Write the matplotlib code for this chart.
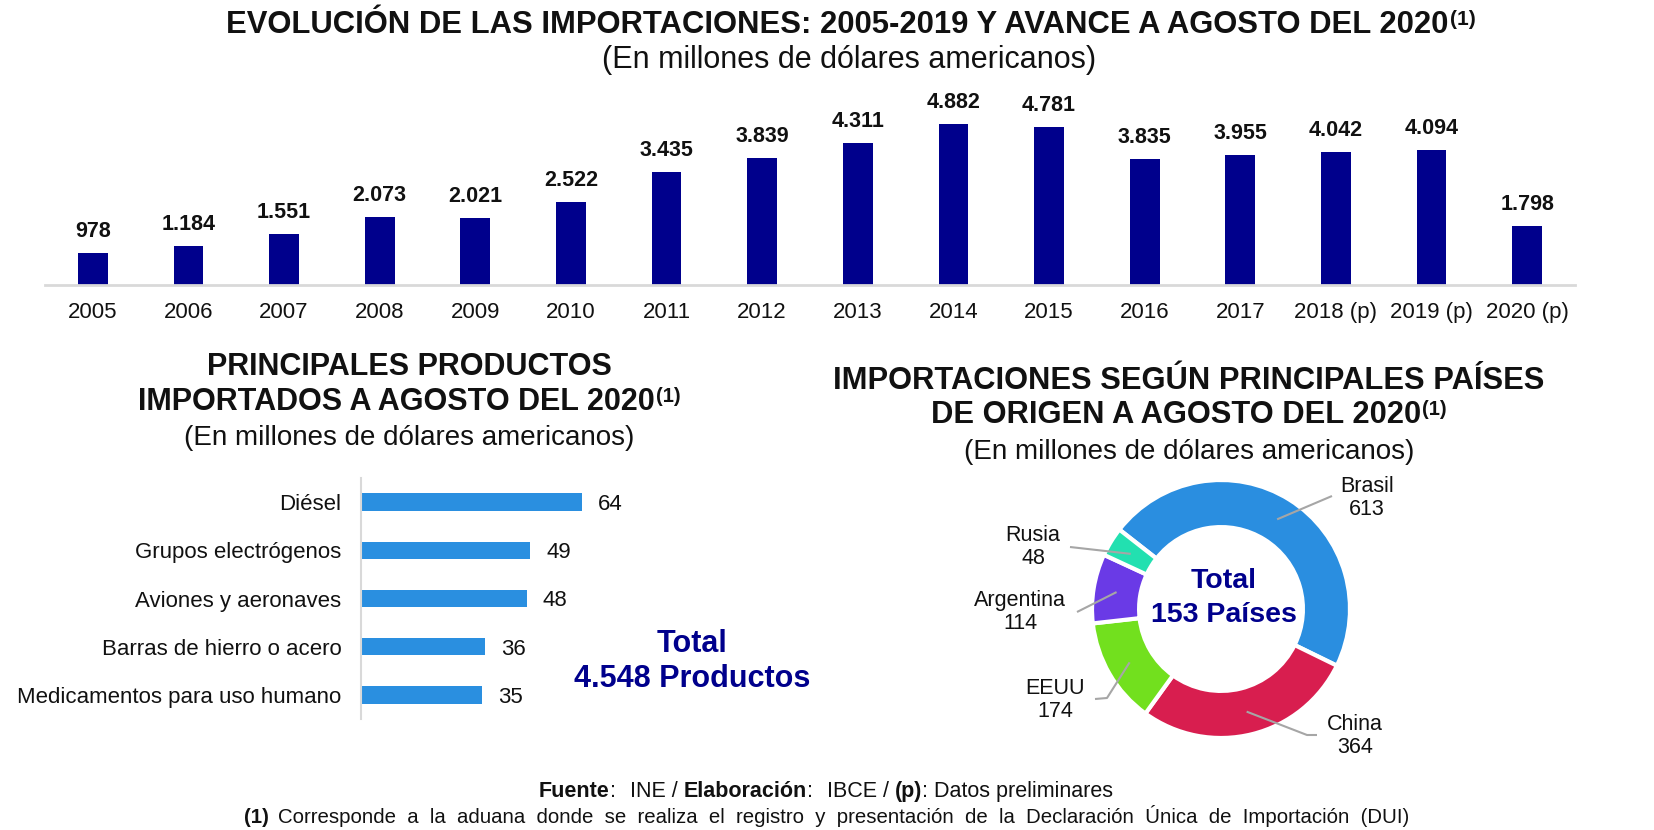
import matplotlib
matplotlib.use("Agg")
import matplotlib.pyplot as plt
import numpy as np

# ---------------- data ----------------
years = ['2005', '2006', '2007', '2008', '2009', '2010', '2011', '2012', '2013',
         '2014', '2015', '2016', '2017', '2018 (p)', '2019 (p)', '2020 (p)']
imports = [978, 1184, 1551, 2073, 2021, 2522, 3435, 3839, 4311,
           4882, 4781, 3835, 3955, 4042, 4094, 1798]

products = ['Diésel', 'Grupos electrógenos', 'Aviones y aeronaves',
            'Barras de hierro o acero', 'Medicamentos para uso humano']
product_values = [64, 49, 48, 36, 35]
total_products = '4.548'

countries = ['Brasil', 'China', 'EEUU', 'Argentina', 'Rusia']
country_values = [613, 364, 174, 114, 48]
total_countries = 153

# ---------------- style ----------------
W, H = 1654, 830
plt.rcParams['font.family'] = ['Liberation Sans', 'DejaVu Sans']
NAVY = '#00008c'
BLUE = '#2a8fe0'
country_colors = ['#2a8ee0', '#d81e4f', '#72e01e', '#6a3ae6', '#22e0b0']
GRID = '#d9d9d9'
TXT = '#111111'

fig = plt.figure(figsize=(W / 100, H / 100), dpi=100)
fig.patch.set_facecolor('white')


def ax_px(x0, y0, x1, y1):
    return fig.add_axes([x0 / W, 1 - y1 / H, (x1 - x0) / W, (y1 - y0) / H])


def fmt(v):
    return f"{v:,}".replace(',', '.')


renderer = fig.canvas.get_renderer()


def mixed_line(pieces, cx, base_y):
    """pieces: list of (text, kwargs, dy_px, gap_px) drawn left to right, centred on cx."""
    arts = []
    total = 0
    for s, kw, dy, gap in pieces:
        t = fig.text(0, 0, s, va='baseline', ha='left', **kw)
        w = t.get_window_extent(renderer=renderer).width
        arts.append((t, dy, gap, w))
        total += w + gap
    x = cx - total / 2
    for t, dy, gap, w in arts:
        x += gap
        t.set_position((x / W, 1 - (base_y - dy) / H))
        x += w


BOLD = dict(weight='bold', color=TXT)

# ---------------- titles ----------------
mixed_line([("EVOLUCIÓN DE LAS IMPORTACIONES: 2005-2019 Y AVANCE A AGOSTO DEL 2020",
             dict(fontsize=22.3, **BOLD), 0, 0),
            ("(1)", dict(fontsize=15, **BOLD), 8, 1)], 851, 33)
mixed_line([("(En millones de dólares americanos)", dict(fontsize=22, color=TXT), 0, 0)], 849, 68)

mixed_line([("PRINCIPALES PRODUCTOS", dict(fontsize=22, **BOLD), 0, 0)], 409, 375)
mixed_line([("IMPORTADOS A AGOSTO DEL 2020", dict(fontsize=22, **BOLD), 0, 0),
            ("(1)", dict(fontsize=14.5, **BOLD), 8, 1)], 409, 410)
mixed_line([("(En millones de dólares americanos)", dict(fontsize=20, color=TXT), 0, 0)], 409, 445)

mixed_line([("IMPORTACIONES SEGÚN PRINCIPALES PAÍSES", dict(fontsize=22.2, **BOLD), 0, 0)], 1189, 389)
mixed_line([("DE ORIGEN A AGOSTO DEL 2020", dict(fontsize=22.2, **BOLD), 0, 0),
            ("(1)", dict(fontsize=14.5, **BOLD), 8, 1)], 1189, 423)
mixed_line([("(En millones de dólares americanos)", dict(fontsize=20, color=TXT), 0, 0)], 1189, 459)

# ---------------- footer ----------------
fs = 15.5
mixed_line([("Fuente", dict(fontsize=fs, **BOLD), 0, 0),
            (":", dict(fontsize=fs, color=TXT), 0, 0),
            ("INE /", dict(fontsize=fs, color=TXT), 0, 14),
            ("Elaboración", dict(fontsize=fs, **BOLD), 0, 6),
            (":", dict(fontsize=fs, color=TXT), 0, 0),
            ("IBCE /", dict(fontsize=fs, color=TXT), 0, 14),
            ("(p)", dict(fontsize=fs, **BOLD), 0, 6),
            (": Datos preliminares", dict(fontsize=fs, color=TXT), 0, 0)], 826, 797)
mixed_line([("(1)", dict(fontsize=14.7, **BOLD), 0, 0),
            ("Corresponde  a  la  aduana  donde  se  realiza  el  registro  y  presentación  de  la  "
             "Declaración  Única  de  Importación  (DUI)", dict(fontsize=14.7, color=TXT), 0, 9)],
           827, 823)

# ---------------- top bar chart ----------------
ax1 = ax_px(45, 100, 1575, 285)
x = np.arange(len(years))
ax1.bar(x, imports, width=0.31, color=NAVY)
ax1.set_xlim(-0.5, len(years) - 0.5)
ax1.set_ylim(0, 4882 * 185 / 161)
for xi, v in zip(x, imports):
    ax1.annotate(fmt(v), (xi, v), xytext=(0, 11.5), textcoords='offset points',
                 ha='center', va='baseline', fontsize=15.5, weight='bold', color=TXT)
ax1.set_xticks(x)
ax1.set_xticklabels(years, fontsize=16, color=TXT)
ax1.tick_params(axis='x', length=0, pad=12)
ax1.set_yticks([])
for s in ['top', 'right', 'left']:
    ax1.spines[s].set_visible(False)
ax1.spines['bottom'].set_color(GRID)
ax1.spines['bottom'].set_linewidth(2)

# ---------------- horizontal bar chart ----------------
ax2 = ax_px(361, 478, 361 + 3.45 * 80, 719)
y = np.arange(len(products))
ax2.barh(y, product_values, height=0.36, color=BLUE)
ax2.set_xlim(0, 80)
ax2.set_ylim(len(products) - 0.5, -0.5)
for yi, v in zip(y, product_values):
    ax2.annotate(str(v), (v, yi), xytext=(11.5, 0), textcoords='offset points',
                 ha='left', va='center_baseline', fontsize=16, color=TXT)
ax2.set_yticks(y)
ax2.set_yticklabels(products, fontsize=16, color=TXT)
ax2.tick_params(axis='y', length=0, pad=14)
ax2.set_xticks([])
for s in ['top', 'right', 'bottom']:
    ax2.spines[s].set_visible(False)
ax2.spines['left'].set_color(GRID)
ax2.spines['left'].set_linewidth(1.5)

fig.text(692 / W, 1 - 652 / H, 'Total', ha='center', va='baseline',
         fontsize=22, weight='bold', color=NAVY)
fig.text(692 / W, 1 - 687 / H, f'{total_products} Productos', ha='center', va='baseline',
         fontsize=22, weight='bold', color=NAVY)

# ---------------- donut ----------------
R = 129.0
cxp, cyp = 1221, 609
hw, hh = 2.4, 1.3
ax3 = ax_px(cxp - hw * R, cyp - hh * R, cxp + hw * R, cyp + hh * R)
wedges, _ = ax3.pie(country_values, colors=country_colors, startangle=142,
                    counterclock=False, radius=1.0,
                    wedgeprops=dict(width=0.365, edgecolor='white', linewidth=3))
ax3.set_aspect('auto')
ax3.set_xlim(-hw, hw)
ax3.set_ylim(-hh, hh)
ax3.axis('off')


def d(px, py):
    return ((px - cxp) / R, (cyp - py) / R)


# label layout: text centre and leader-line points (pixel positions)
label_layout = {
    'Brasil': ((1367, 498), [(1332, 496)]),
    'China': ((1355, 736), [(1307, 735), (1317, 735)]),
    'EEUU': ((1055, 700), [(1107, 698), (1095, 699)]),
    'Argentina': ((1020, 612), [(1077, 612)]),
    'Rusia': ((1033, 547), [(1070, 547)]),
}
for w, name, v in zip(wedges, countries, country_values):
    mid = np.deg2rad((w.theta1 + w.theta2) / 2)
    ax_, ay_ = 0.82 * np.cos(mid), 0.82 * np.sin(mid)
    (tx, ty), pts = label_layout[name]
    xs = [ax_] + [d(*p)[0] for p in pts]
    ys = [ay_] + [d(*p)[1] for p in pts]
    ax3.plot(xs, ys, color='#a6a6a6', lw=1.5, solid_capstyle='butt')
    tdx, tdy = d(tx, ty)
    ax3.text(tdx, tdy, f'{name}\n{v}', ha='center', va='center', fontsize=15.5,
             color=TXT, linespacing=1.15)

fig.text(1224 / W, 1 - 588 / H, 'Total', ha='center', va='baseline',
         fontsize=20.5, weight='bold', color=NAVY)
fig.text(1224 / W, 1 - 622 / H, f'{total_countries} Países', ha='center', va='baseline',
         fontsize=20.5, weight='bold', color=NAVY)

fig.savefig('out.png', dpi=100, facecolor='white')
